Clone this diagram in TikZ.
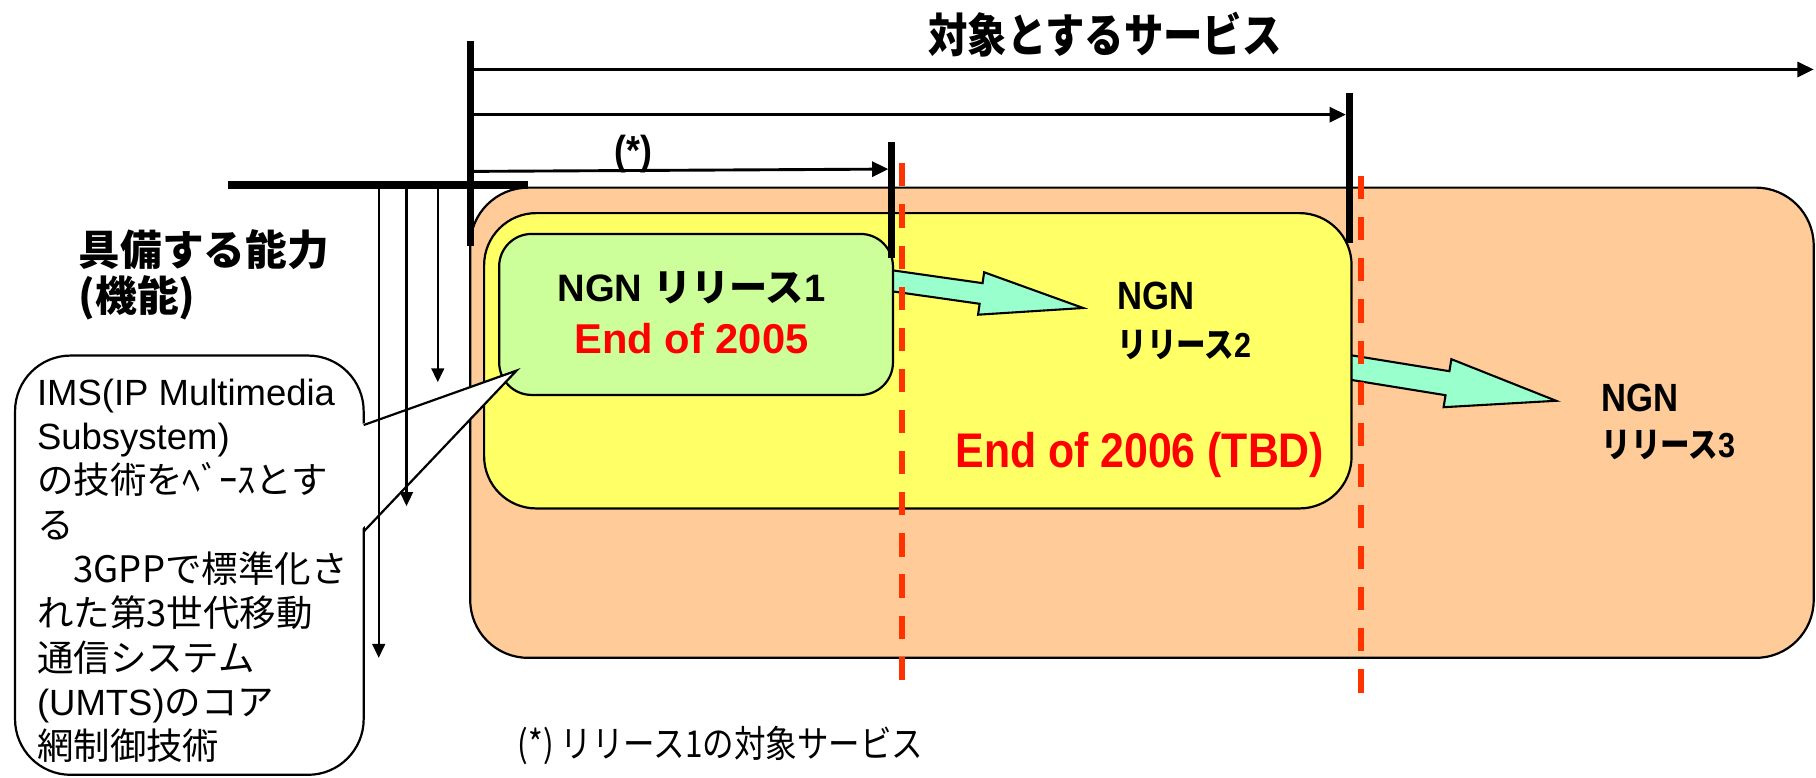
\documentclass[tikz,border=0pt]{standalone}
\usepackage{fontspec}
\setmainfont{Liberation Sans}
\newfontfamily\jp{Noto Sans CJK JP}
\newfontfamily\jpn{Noto Sans CJK JP}[FakeStretch=0.85]
\newfontfamily\arn{Liberation Sans}[FakeStretch=0.88]
\usetikzlibrary{arrows.meta}
\definecolor{orangebg}{HTML}{FFCC99}
\definecolor{yellowbg}{HTML}{FFFF66}
\definecolor{greenbg}{HTML}{CCFF99}
\definecolor{cyanar}{HTML}{99FFCC}
\definecolor{dashred}{HTML}{FF3300}
\definecolor{txtred}{HTML}{FF0000}
\newcommand\myfs[1]{\fontsize{#1}{#1}\selectfont}
\begin{document}
\begin{tikzpicture}[x=1pt,y=-1pt,
  boxline/.style={draw=black,line width=1.9pt},
  thickbar/.style={line width=6.3pt},
  toparrow/.style={line width=2.5pt,-{Triangle[length=14pt,width=13pt]}},
  downarrow/.style={line width=1.8pt,-{Triangle[length=12pt,width=11pt]}},
  reddash/.style={draw=dashred,line width=5.5pt,dash pattern=on 20pt off 15.5pt},
  cyarrow/.style={fill=cyanar,draw=black,line width=1.8pt,line join=miter},
  lab/.style={inner sep=0pt,outer sep=0pt},
  bubtxt/.style={lab,anchor=base west,font=\myfs{31.5}},
  bubjp/.style={bubtxt,font=\jp\myfs{31.5}}
]
\useasboundingbox (0,0) rectangle (1568,671);
\clip (0,0) rectangle (1568,671);

% callout bubble
\draw[boxline,fill=white,rounded corners=48pt] (13,307) rectangle (314,669);

% orange box
\draw[boxline,fill=orangebg,rounded corners=50pt] (406,162) rectangle (1566,568);
% arrow 2
\begin{scope}[shift={(1158,316)},rotate=-9.2]
  \draw[cyarrow] (0,-10.5) -- (93,-10.5) -- (93,-21) -- (188,0) -- (93,21) -- (93,10.5) -- (0,10.5) -- cycle;
\end{scope}
% yellow box
\draw[boxline,fill=yellowbg,rounded corners=45pt] (418,184) rectangle (1167,439);
% arrow 1
\begin{scope}[shift={(760,241)},rotate=-8.1]
  \draw[cyarrow] (0,-9) -- (88,-9) -- (88,-18.5) -- (177,0) -- (88,18.5) -- (88,9) -- (0,9) -- cycle;
\end{scope}
% green box
\draw[boxline,fill=greenbg,rounded corners=28pt] (431,202) rectangle (771,341);

% texts in boxes
\node[lab,anchor=base,font=\bfseries\myfs{33}] (rel1) at (597,260) {NGN {\jp\bfseries リリース}1};
\node[lab,anchor=base,font=\bfseries\myfs{36},text=txtred] (end5) at (597,305) {End of 2005};
\node[lab,anchor=base west,font=\arn\bfseries\myfs{34}] (ngn2) at (965,267) {NGN};
\node[lab,anchor=base west,font=\jpn\bfseries\myfs{30}] (rel2) at (965,309) {リリース{\arn 2}};
\node[lab,anchor=base west,font=\arn\bfseries\myfs{42},text=txtred] (end6) at (825,404) {End of 2006 (TBD)};
\node[lab,anchor=base west,font=\arn\bfseries\myfs{34}] (ngn3) at (1383,355) {NGN};
\node[lab,anchor=base west,font=\jpn\bfseries\myfs{30}] (rel3) at (1383,395) {リリース{\arn 3}};

% callout wedge
\coordinate (wtop) at (314,367);
\coordinate (wbot) at (314,459);
\coordinate (wtip) at (446,320);
\fill[white] (310,367) -- (wtip) -- (310,459) -- cycle;
\draw[line width=1.9pt,line join=miter] (wtop) -- (wtip) -- (wbot);

% bubble text
\node[bubtxt] (b1) at (32,350) {IMS(IP Multimedia};
\node[bubtxt] (b2) at (32,388.25) {Subsystem)};
\node[bubjp] (b3) at (32,426.5) {の技術をﾍﾞｰｽとす};
\node[bubjp] (b4) at (32,464.75) {る};
\node[bubjp] (b5) at (32,503) {　3GPPで標準化さ};
\node[bubjp] (b6) at (32,541.25) {れた第3世代移動};
\node[bubjp] (b7) at (32,579.5) {通信システム};
\node[bubtxt] (b8) at (32,617.75) {(UMTS){\jp のコア}};
\node[bubjp] (b9) at (32,656) {網制御技術};

% capability bar and down arrows
\coordinate (hbL) at (197,160);
\coordinate (hbR) at (456,160);
\coordinate (d1s) at (327,160); \coordinate (d1e) at (327,568);
\coordinate (d2s) at (351,160); \coordinate (d2e) at (351,437);
\coordinate (d3s) at (378,160); \coordinate (d3e) at (378,330);
\draw[downarrow] (d1s) -- (d1e);
\draw[downarrow] (d2s) -- (d2e);
\draw[downarrow] (d3s) -- (d3e);
\draw[line width=7pt] (hbL) -- (hbR);

% service arrows
\coordinate (v0t) at (406,35); \coordinate (v0b) at (406,212);
\coordinate (v1t) at (770,123); \coordinate (v1b) at (770,223);
\coordinate (v2t) at (1165,80); \coordinate (v2b) at (1165,210);
\coordinate (a0s) at (406,60); \coordinate (a0e) at (1566,60);
\coordinate (a1s) at (406,148); \coordinate (a1e) at (767,146);
\coordinate (a2s) at (406,99); \coordinate (a2e) at (1162,99);
\draw[toparrow] (a0s) -- (a0e);
\draw[toparrow] (a2s) -- (a2e);
\draw[toparrow] (a1s) -- (a1e);
\draw[thickbar] (v0t) -- (v0b);
\draw[line width=6pt] (v1t) -- (v1b);
\draw[line width=6pt] (v2t) -- (v2b);

% red dashed lines
\coordinate (r1t) at (779,141); \coordinate (r1b) at (779,595);
\coordinate (r2t) at (1175,152); \coordinate (r2b) at (1175,608);
\draw[reddash] (r1t) -- (r1b);
\draw[reddash] (r2t) -- (r2b);

% labels
\node[lab,anchor=base,font=\jpn\bfseries\myfs{40}] (title) at (954,45) {対象とするサービス};
\node[lab,font=\arn\bfseries\myfs{35}] (star) at (547,133) {(*)};
\node[lab,anchor=base west,font=\jp\bfseries\myfs{36}] (cap1) at (68,229) {具備する能力};
\node[lab,anchor=base west,font=\jp\bfseries\myfs{36}] (cap2) at (68,269) {(機能)};
\node[lab,anchor=base west,font=\jpn\myfs{32}] (foot) at (447,654) {(*) リリース1の対象サービス};
\end{tikzpicture}
\end{document}
